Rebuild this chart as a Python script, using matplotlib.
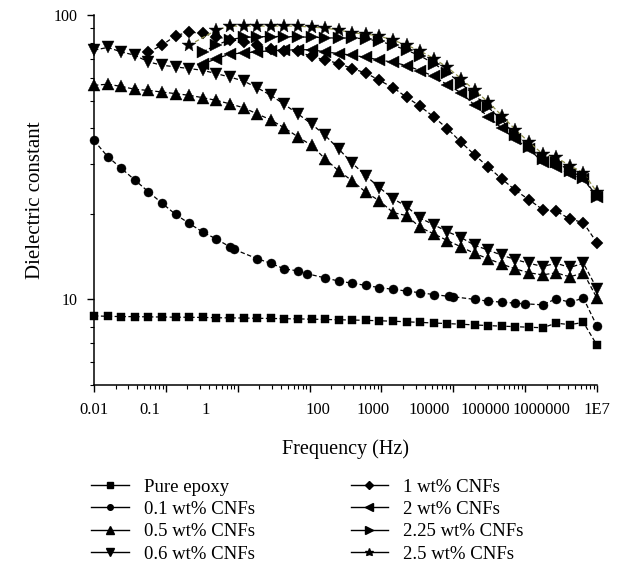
import matplotlib
matplotlib.use("Agg")
import matplotlib.pyplot as plt
from matplotlib.lines import Line2D
from matplotlib.ticker import FixedLocator, LogLocator, NullFormatter, FixedFormatter, NullLocator

plt.rcParams['font.family'] = ['Liberation Serif', 'DejaVu Serif']

# ---- data -----------------------------------------------------------
freq = [0.01, 0.0175, 0.0307, 0.0537, 0.094, 0.1645, 0.288, 0.504, 0.883,
        1.546, 2.707, 4.74, 8.298, 14.53, 25.43, 44.53, 77.98, 136.5, 239.0,
        418.5, 732.8, 1283, 2246, 3932, 6884, 12053, 21103, 36950, 64690,
        113270, 198310, 347200, 607900, 1064300, 1863500, 3262600, 5712400,
        10000000]

pure_epoxy = [8.75, 8.72, 8.70, 8.70, 8.68, 8.67, 8.66, 8.65, 8.64, 8.62,
              8.61, 8.60, 8.58, 8.57, 8.55, 8.54, 8.52, 8.50, 8.48, 8.46,
              8.44, 8.41, 8.38, 8.34, 8.30, 8.26, 8.22, 8.18, 8.13, 8.09,
              8.05, 8.02, 7.98, 7.95, 8.25, 8.15, 8.30, 6.90]

freq_01 = [0.01, 0.0175, 0.0307, 0.0537, 0.094, 0.1645, 0.288, 0.504, 0.883,
           1.546, 2.707, 3.20, 8.298, 14.53, 25.43, 44.53, 65.9, 136.5, 239.0,
           418.5, 732.8, 1283, 2246, 3932, 6884, 12053, 22340, 26420, 64690,
           113270, 198310, 347200, 514000, 1064300, 1863500, 3262600, 5712400,
           10000000]
cnf_01 = [36.2, 31.8, 28.9, 26.3, 23.9, 21.8, 19.9, 18.5, 17.25, 16.3, 15.3,
          15.0, 13.9, 13.4, 12.8, 12.6, 12.3, 11.9, 11.6, 11.4, 11.2, 11.0,
          10.85, 10.7, 10.55, 10.4, 10.25, 10.22, 10.0, 9.86, 9.78, 9.70,
          9.65, 9.57, 10.05, 9.78, 10.1, 8.05]

cnf_05 = [56.6, 57.1, 56.1, 54.8, 54.3, 53.6, 52.9, 52.2, 51.2, 50.1, 48.7,
          47.2, 44.9, 42.8, 40.1, 37.3, 34.8, 31.2, 28.3, 26.1, 23.8, 22.2,
          20.2, 19.7, 17.9, 17.0, 16.1, 15.3, 14.5, 13.9, 13.3, 12.8, 12.4,
          12.2, 12.4, 12.0, 12.4, 10.1]

cnf_06 = [75.2, 76.9, 74.2, 72.2, 68.4, 66.6, 65.7, 64.8, 63.9, 62.2, 60.5,
          58.6, 55.5, 52.2, 48.5, 44.9, 41.4, 37.7, 33.8, 30.1, 27.2, 24.7,
          22.6, 21.2, 19.3, 18.3, 17.3, 16.5, 15.5, 14.9, 14.3, 13.8, 13.4,
          13.05, 13.4, 12.95, 13.4, 10.9]

freq_1 = freq[4:]
cnf_1 = [74.0, 78.3, 84.6, 87.1, 86.2, 83.8, 82.0, 80.6, 78.3, 75.7, 74.8,
         74.5, 71.5, 69.5, 67.5, 64.8, 62.5, 58.9, 55.5, 51.4, 47.7, 43.8,
         39.8, 35.7, 32.2, 29.2, 26.5, 24.2, 22.4, 20.7, 20.4, 19.2, 18.6,
         15.8]

freq_2 = freq[8:]
cnf_2 = [67.1, 70.3, 72.8, 73.6, 74.2, 74.9, 75.2, 75.5, 75.5, 74.2, 73.2,
         72.2, 71.0, 69.5, 68.2, 66.4, 63.7, 60.9, 56.8, 53.3, 48.2, 43.9,
         40.0, 36.5, 33.9, 30.3, 29.2, 27.6, 26.5, 22.9]

freq_225 = freq[8:]
cnf_225 = [74.2, 78.3, 82.0, 83.4, 83.8, 84.0, 84.0, 83.8, 83.5, 83.3, 82.8,
           83.2, 82.3, 80.9, 78.3, 75.2, 71.8, 67.5, 62.7, 57.4, 52.2, 47.4,
           42.6, 37.9, 34.3, 31.2, 30.4, 28.3, 26.8, 22.9]

freq_25 = [freq[7]] + freq[9:]
cnf_25 = [78.3, 88.5, 91.4, 91.4, 91.4, 91.4, 91.4, 91.4, 90.7, 90.0, 88.5,
          86.6, 85.7, 84.3, 81.6, 78.3, 74.7, 70.3, 65.4, 59.8, 54.3, 49.4,
          44.3, 39.5, 35.7, 32.5, 31.6, 29.5, 27.9, 23.8]

labels = ['Pure epoxy', '0.1 wt% CNFs', '0.5 wt% CNFs', '0.6 wt% CNFs',
          '1 wt% CNFs', '2 wt% CNFs', '2.25 wt% CNFs', '2.5 wt% CNFs']

xtick_vals = [0.01, 0.1, 1, 10, 100, 1000, 10000, 100000, 1000000, 10000000]
xtick_labels = ['0.01', '0.1', '1', '', '100', '1000', '10000', '100000',
                '1000000', '1E7']
ytick_vals = [10, 100]
ytick_labels = ['10', '100']

# ---- figure ---------------------------------------------------------
fig = plt.figure(figsize=(6.17, 5.75), dpi=100)
ax = fig.add_axes([94 / 617, 1 - 385 / 575, (597 - 94) / 617, (385 - 15) / 575])

series = [
    (freq, pure_epoxy, 's', 6.0, 'black'),
    (freq_01, cnf_01, 'o', 6.5, 'black'),
    (freq, cnf_05, '^', 8.5, 'black'),
    (freq, cnf_06, 'v', 8.5, 'black'),
    (freq_1, cnf_1, 'D', 6.0, 'black'),
    (freq_2, cnf_2, '<', 8.5, 'black'),
    (freq_225, cnf_225, '>', 8.5, 'black'),
    (freq_25, cnf_25, '*', 10.0, '#8f8f4a'),
]

handles = []
for (xs, ys, mk, ms, lc), lab in zip(series, labels):
    ax.plot(xs, ys, linestyle=(0, (3.5, 2)), color=lc, linewidth=0.9,
            marker=mk, markersize=ms, markerfacecolor='black',
            markeredgecolor='black', markeredgewidth=0.3, clip_on=False)
    handles.append(Line2D([], [], color='black', linewidth=1.0, marker=mk,
                          markersize=ms * 0.62, markerfacecolor='black',
                          markeredgecolor='black'))

ax.set_xscale('log')
ax.set_yscale('log')
ax.set_xlim(0.01, 1e7)
ax.set_ylim(5, 100)

ax.xaxis.set_major_locator(FixedLocator(xtick_vals))
ax.xaxis.set_major_formatter(FixedFormatter(xtick_labels))
ax.xaxis.set_minor_locator(NullLocator())
ax.yaxis.set_major_locator(FixedLocator(ytick_vals))
ax.yaxis.set_major_formatter(FixedFormatter(ytick_labels))
ax.yaxis.set_minor_locator(LogLocator(base=10, subs=range(2, 10), numticks=50))
ax.yaxis.set_minor_formatter(NullFormatter())

for s in ['top', 'right']:
    ax.spines[s].set_visible(False)
for s in ['left', 'bottom']:
    ax.spines[s].set_linewidth(1.1)

ax.tick_params(axis='y', which='major', direction='out', length=5,
               width=1.0, labelsize=11.5, pad=7)
ax.tick_params(axis='y', which='minor', direction='out', length=3,
               width=0.8)
# x labels only on the main axis; the tick marks of the reference come
# from a separate (differently spaced) log scale drawn on the same line
ax.tick_params(axis='x', which='major', length=0, labelsize=12, pad=12.5)

axt = ax.twiny()
axt.set_xscale('log')
axt.set_xlim(1, 1e7)
axt.xaxis.set_ticks_position('bottom')
axt.xaxis.set_major_locator(LogLocator(base=10, numticks=20))
axt.xaxis.set_minor_locator(LogLocator(base=10, subs=range(2, 10), numticks=50))
axt.xaxis.set_major_formatter(NullFormatter())
axt.xaxis.set_minor_formatter(NullFormatter())
axt.tick_params(axis='x', which='major', direction='out', length=5, width=1.0,
                labelbottom=False, labeltop=False)
axt.tick_params(axis='x', which='minor', direction='out', length=3, width=0.8)
for s in axt.spines.values():
    s.set_visible(False)

ax.set_xlabel('Frequency (Hz)', fontsize=14.5, labelpad=15)
ax.set_ylabel('Dielectric constant', fontsize=15, labelpad=6)

fig.legend(handles, labels, ncol=2, loc='upper left',
           bbox_to_anchor=(84 / 617, 1 - 471 / 575), frameon=False,
           fontsize=13.5, handlelength=2.0, handletextpad=0.8,
           columnspacing=5.1, labelspacing=0.28, borderaxespad=0)

fig.savefig('out.png', dpi=100)
